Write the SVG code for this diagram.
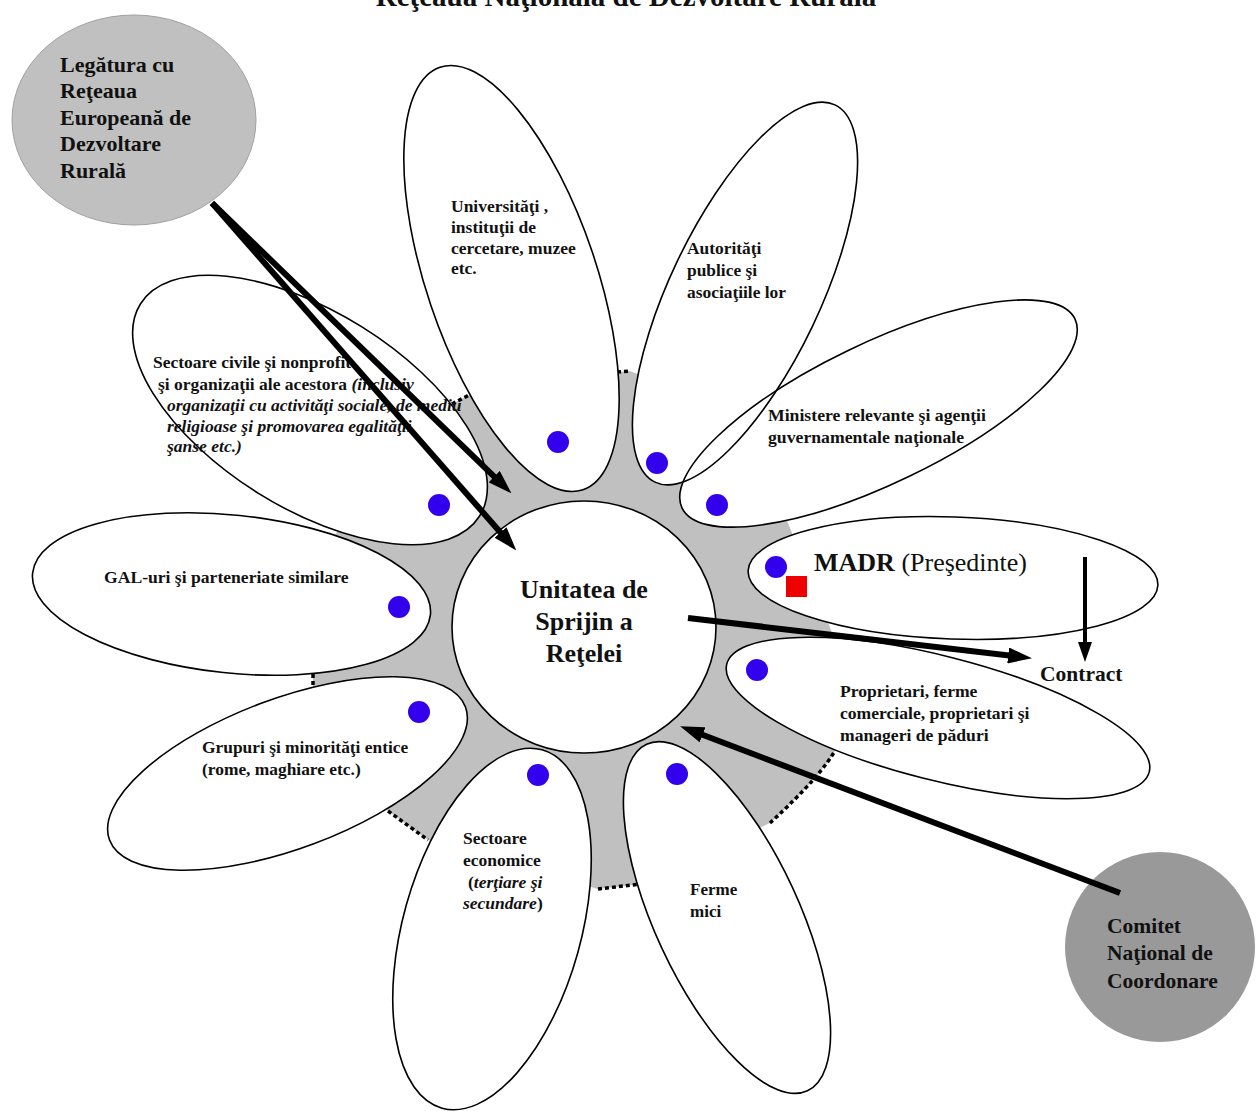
<svg xmlns="http://www.w3.org/2000/svg" xmlns:xlink="http://www.w3.org/1999/xlink" width="1257" height="1111" viewBox="0 0 1257 1111">
<style>
.t{font-family:"Liberation Serif","Times New Roman",serif;font-weight:bold;fill:#111}
.it{font-style:italic}
.nw{font-weight:normal}
.pf{fill:#fff;stroke:none}
.pl{fill:none;stroke:#000;stroke-width:1.6}
.dot{fill:#3300ee}
.dots{fill:none;stroke:#000;stroke-width:3.5;stroke-dasharray:4 3}
.arr{fill:none;stroke:#000;stroke-width:6}
.arr2{fill:none;stroke:#000;stroke-width:4}
</style>
<defs>
<ellipse id="e-univ" cx="511.5" cy="278.5" rx="223" ry="85" transform="rotate(71.3 511.5 278.5)"/>
<ellipse id="e-aut" cx="745" cy="293.5" rx="209" ry="75" transform="rotate(115.5 745 293.5)"/>
<ellipse id="e-min" cx="878.5" cy="413.5" rx="218" ry="70" transform="rotate(-25.7 878.5 413.5)"/>
<ellipse id="e-madr" cx="953" cy="578" rx="205" ry="61" transform="rotate(2 953 578)"/>
<ellipse id="e-prop" cx="938" cy="718" rx="218" ry="62" transform="rotate(14.3 938 718)"/>
<ellipse id="e-ferme" cx="727" cy="917.5" rx="191" ry="72" transform="rotate(65.1 727 917.5)"/>
<ellipse id="e-econ" cx="492" cy="929" rx="186" ry="89" transform="rotate(105.6 492 929)"/>
<ellipse id="e-grup" cx="287.5" cy="773.5" rx="190" ry="75" transform="rotate(-20.5 287.5 773.5)"/>
<ellipse id="e-gal" cx="231.5" cy="594" rx="200" ry="79" transform="rotate(6 231.5 594)"/>
<ellipse id="e-civ" cx="310" cy="410" rx="200" ry="98" transform="rotate(32 310 410)"/>
<marker id="ah" markerUnits="userSpaceOnUse" markerWidth="24" markerHeight="16" refX="10" refY="8" orient="auto">
<path d="M0,0 L24,8 L0,16 Z" fill="#000"/>
</marker>
<marker id="ah2" markerUnits="userSpaceOnUse" markerWidth="20" markerHeight="14" refX="8" refY="7" orient="auto">
<path d="M0,0 L20,7 L0,14 Z" fill="#000"/>
</marker>
</defs>
<rect x="0" y="0" width="1257" height="1111" fill="#fff"/>
<text class="t" x="626" y="6" font-size="29" text-anchor="middle">Reţeaua Naţională de Dezvoltare Rurală</text>
<g id="ring">
<path d="M617,372 L630,371 L745,418 L790,528 L835,640 L837,747 Q822.5,775 770,823 L641,884 L598,889 L428,840 L388,811 L313,687 L313,674 L330,540 L452,404 L471,394 Z" fill="#c0c0c0"/>
<path class="dots" d="M452,404 L471,394"/>
<path class="dots" d="M617,372 L630,371"/>
<path class="dots" d="M313,674 L313,687"/>
<path class="dots" d="M388,811 L428,840"/>
<path class="dots" d="M598,889 L641,884"/>
<path class="dots" d="M837,747 Q822.5,775 770,823"/>
</g>
<g id="petal-fills">
<use xlink:href="#e-univ" class="pf"/>
<use xlink:href="#e-aut" class="pf"/>
<use xlink:href="#e-min" class="pf"/>
<use xlink:href="#e-madr" class="pf"/>
<use xlink:href="#e-prop" class="pf"/>
<use xlink:href="#e-ferme" class="pf"/>
<use xlink:href="#e-econ" class="pf"/>
<use xlink:href="#e-grup" class="pf"/>
<use xlink:href="#e-gal" class="pf"/>
<use xlink:href="#e-civ" class="pf"/>
</g>
<g id="node-universitati">
<use xlink:href="#e-univ" class="pl"/>
<circle class="dot" cx="558" cy="442" r="11"/>
<text class="t" font-size="17.5"><tspan x="451" y="212">Universităţi ,</tspan><tspan x="451" y="233">instituţii de</tspan><tspan x="451" y="254">cercetare, muzee</tspan><tspan x="451" y="274">etc.</tspan></text>
</g>
<g id="node-autoritati">
<use xlink:href="#e-aut" class="pl"/>
<circle class="dot" cx="657" cy="463" r="11"/>
<text class="t" font-size="17.4"><tspan x="687" y="254">Autorităţi</tspan><tspan x="687" y="276">publice şi</tspan><tspan x="687" y="298">asociaţiile lor</tspan></text>
</g>
<g id="node-ministere">
<use xlink:href="#e-min" class="pl"/>
<circle class="dot" cx="717" cy="505" r="11"/>
<text class="t" font-size="17.7"><tspan x="768" y="421">Ministere relevante şi agenţii</tspan><tspan x="768" y="443">guvernamentale naţionale</tspan></text>
</g>
<g id="node-madr">
<use xlink:href="#e-madr" class="pl"/>
<circle class="dot" cx="776" cy="567" r="11"/>
<rect x="786" y="576" width="21" height="21" fill="#ee0000"/>
<text class="t" x="814" y="571" font-size="26">MADR<tspan class="nw"> (Preşedinte)</tspan></text>
</g>
<g id="node-proprietari">
<use xlink:href="#e-prop" class="pl"/>
<circle class="dot" cx="757" cy="670" r="11"/>
<text class="t" font-size="17.6"><tspan x="840" y="697">Proprietari, ferme</tspan><tspan x="840" y="719">comerciale, proprietari şi</tspan><tspan x="840" y="741">manageri de păduri</tspan></text>
</g>
<g id="node-ferme">
<use xlink:href="#e-ferme" class="pl"/>
<circle class="dot" cx="677" cy="774" r="11"/>
<text class="t" font-size="17"><tspan x="690" y="895">Ferme</tspan><tspan x="690" y="917">mici</tspan></text>
</g>
<g id="node-economice">
<use xlink:href="#e-econ" class="pl"/>
<circle class="dot" cx="538" cy="775" r="11"/>
<text class="t" font-size="17.5"><tspan x="463" y="844">Sectoare</tspan><tspan x="463" y="866">economice</tspan><tspan x="468" y="888">(<tspan class="it">terţiare şi</tspan></tspan><tspan x="463" y="909" class="it">secundare</tspan><tspan>)</tspan></text>
</g>
<g id="node-grupuri">
<use xlink:href="#e-grup" class="pl"/>
<circle class="dot" cx="419" cy="712" r="11"/>
<text class="t" font-size="17.4"><tspan x="202" y="753">Grupuri şi minorităţi entice</tspan><tspan x="202" y="775">(rome, maghiare etc.)</tspan></text>
</g>
<g id="node-gal">
<use xlink:href="#e-gal" class="pl"/>
<circle class="dot" cx="399" cy="607" r="11"/>
<text class="t" x="104" y="583" font-size="17.6">GAL-uri şi parteneriate similare</text>
</g>
<g id="node-civile">
<use xlink:href="#e-civ" class="pl"/>
<circle class="dot" cx="439" cy="505" r="11"/>
<text class="t" font-size="17.5"><tspan x="153" y="368">Sectoare civile şi nonprofit</tspan><tspan x="158" y="390">şi organizaţii ale acestora <tspan class="it">(inclusiv</tspan></tspan><tspan x="167" y="411" class="it">organizaţii cu activităţi sociale, de mediu</tspan><tspan x="167" y="432" class="it">religioase şi promovarea egalităţii</tspan><tspan x="167" y="452" class="it">şanse etc.)</tspan></text>
</g>
<g id="node-unitatea">
<ellipse cx="584" cy="627" rx="132" ry="126" fill="#fff" stroke="#000" stroke-width="1.6"/>
<text class="t" font-size="26" text-anchor="middle"><tspan x="584" y="598">Unitatea de</tspan><tspan x="584" y="630">Sprijin a</tspan><tspan x="584" y="662">Reţelei</tspan></text>
</g>
<g id="node-legatura">
<ellipse cx="134" cy="120" rx="122" ry="105" fill="#c0c0c0" stroke="#a0a0a0" stroke-width="1"/>
<text class="t" font-size="22"><tspan x="60" y="72">Legătura cu</tspan><tspan x="60" y="98">Reţeaua</tspan><tspan x="60" y="125">Europeană de</tspan><tspan x="60" y="151">Dezvoltare</tspan><tspan x="60" y="178">Rurală</tspan></text>
</g>
<g id="node-comitet">
<circle cx="1160" cy="947" r="95" fill="#999999"/>
<text class="t" font-size="21.5"><tspan x="1107" y="933">Comitet</tspan><tspan x="1107" y="960">Naţional de</tspan><tspan x="1107" y="988">Coordonare</tspan></text>
</g>
<g id="node-contract">
<text class="t" x="1040" y="681" font-size="21.5">Contract</text>
</g>
<g id="connectors">
<path class="arr" d="M212,203 L501.4,483.6" marker-end="url(#ah)"/>
<path class="arr" d="M212,203 L507.1,540" marker-end="url(#ah)"/>
<path class="arr" d="M688,618 L1018.1,656.6" marker-end="url(#ah)"/>
<path class="arr2" d="M1085,557 L1085,650" marker-end="url(#ah2)"/>
<path class="arr" d="M1120,893 L693.2,731.3" marker-end="url(#ah)"/>
</g>
</svg>
